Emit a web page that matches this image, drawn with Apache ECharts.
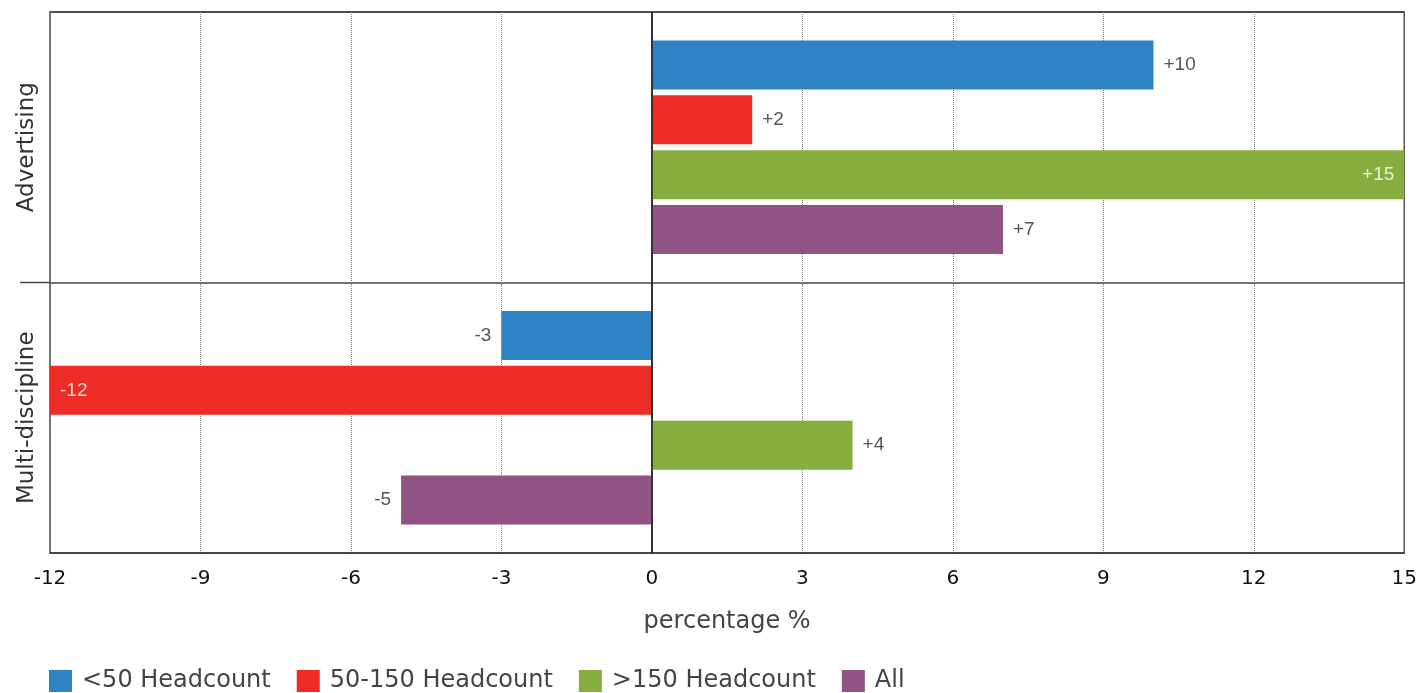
<!DOCTYPE html>
<html><head><meta charset="utf-8">
<script src="https://cdn.jsdelivr.net/npm/echarts@6/dist/echarts.min.js"></script>
<style>html,body{margin:0;padding:0;background:#fff}#c{width:1420px;height:693px}</style>
</head><body><div id="c"></div>
<script>
const categories = ['Advertising', 'Multi-discipline'];
const seriesNames = ['<50 Headcount', '50-150 Headcount', '>150 Headcount', 'All'];
const lt50 = [10, -3];
const mid = [2, -12];
const gt150 = [15, 4];
const all = [7, -5];
const xTicks = [-12, -9, -6, -3, 0, 3, 6, 9, 12, 15];
const colors = ['#2E83C5', '#EE2B24', '#86AD3E', '#905384'];
const values = [lt50, mid, gt150, all];
const XMIN = xTicks[0], XMAX = xTicks[xTicks.length - 1];
const font = '"DejaVu Sans", sans-serif';
const labelFont = '"Liberation Sans", Arial, sans-serif';

function fmt(v){ return (v > 0 ? '+' : '') + v; }
function mkData(arr){
  return arr.map(v => {
    const atEdge = (v >= XMAX) || (v <= XMIN);
    let pos;
    if (v >= 0) pos = atEdge ? 'insideRight' : 'right';
    else pos = atEdge ? 'insideLeft' : 'left';
    return { value: v, label: { position: pos, color: atEdge ? 'rgba(255,255,255,0.8)' : '#555' } };
  });
}

const chart = echarts.init(document.getElementById('c'));
chart.setOption({
  animation: false,
  color: colors,
  grid: { left: 50, right: 13, top: 12, bottom: 140, show: true, borderColor: '#444', borderWidth: 1.5 },
  legend: {
    top: 664, left: 44, itemWidth: 23, itemHeight: 22, itemGap: 26,
    icon: 'rect',
    textStyle: { fontSize: 24, color: '#444', fontFamily: font, padding: [0, 0, 0, 5] }
  },
  xAxis: {
    type: 'value', min: XMIN, max: XMAX, interval: 3,
    name: 'percentage %', nameLocation: 'middle', nameGap: 57,
    nameTextStyle: { fontSize: 24, color: '#444', fontFamily: font },
    axisLine: { show: true, lineStyle: { color: '#444', width: 1.5 } },
    axisTick: { show: false },
    axisLabel: { fontSize: 20, color: '#111', margin: 16, fontFamily: font, formatter: v => String(v) },
    splitLine: { show: true, lineStyle: { type: 'dotted', color: '#777', width: 1 } }
  },
  yAxis: {
    type: 'category', data: categories, inverse: true,
    axisLine: { show: true, lineStyle: { color: '#444', width: 1.5 } },
    axisTick: { show: false },
    axisLabel: { rotate: 90, fontSize: 23, color: '#333', margin: 11, fontFamily: font },
    splitLine: { show: true, lineStyle: { color: '#444', width: 1.5 } }
  },
  series: values.map((arr, i) => ({
    name: seriesNames[i], type: 'bar', data: mkData(arr),
    barWidth: 49, barGap: '12%', barCategoryGap: '22%',
    label: { show: true, fontSize: 19, fontFamily: labelFont, distance: 10, formatter: p => fmt(p.value) },
    markLine: i === 0 ? { silent: true, symbol: 'none', label: { show: false },
      lineStyle: { color: '#222', type: 'solid', width: 1.5 }, data: [{ xAxis: 0 }] } : undefined
  }))
});

// extend the category divider a little to the left of the axis, like the original
const c0 = chart.convertToPixel({ yAxisIndex: 0 }, categories[0]);
const c1 = chart.convertToPixel({ yAxisIndex: 0 }, categories[1]);
const yDiv = (c0 + c1) / 2;
const xAxisLeft = chart.convertToPixel({ xAxisIndex: 0 }, XMIN);
chart.setOption({
  graphic: [{ type: 'line', silent: true,
    shape: { x1: xAxisLeft - 30, y1: yDiv, x2: xAxisLeft, y2: yDiv },
    style: { stroke: '#444', lineWidth: 1.5 } }]
});
</script></body></html>
